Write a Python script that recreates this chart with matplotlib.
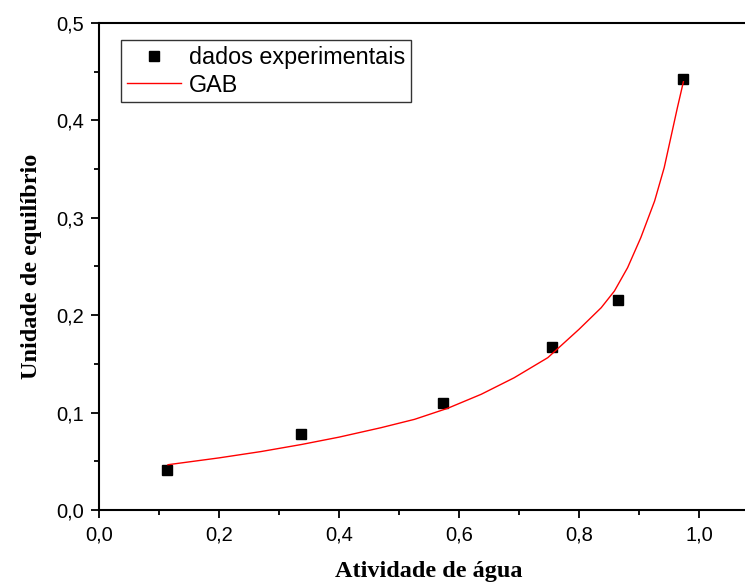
import matplotlib
matplotlib.use('Agg')
from matplotlib import pyplot as plt
from matplotlib.ticker import MultipleLocator, FuncFormatter

# Experimental sorption data
aw_exp = [0.113, 0.336, 0.573, 0.755, 0.865, 0.973]
m_exp = [0.041, 0.078, 0.110, 0.167, 0.216, 0.443]

# GAB fitted curve
aw_gab = [0.115, 0.200, 0.270, 0.337, 0.400, 0.470, 0.526, 0.581, 0.637, 0.692,
          0.748, 0.800, 0.837, 0.859, 0.881, 0.903, 0.926, 0.942, 0.953, 0.964, 0.974]
m_gab = [0.0465, 0.0535, 0.0600, 0.0672, 0.0748, 0.0845, 0.0931, 0.1044, 0.1188, 0.1358,
         0.1564, 0.1855, 0.2077, 0.2248, 0.2488, 0.2796, 0.3172, 0.3515, 0.3823, 0.4131, 0.4397]

plt.rcParams['font.family'] = 'Liberation Sans'

fig = plt.figure(figsize=(7.45, 5.83), dpi=100)
ax = fig.add_axes([99 / 745, 73 / 583, 660 / 745, 487 / 583])

ax.plot(aw_exp, m_exp, 's', color='black', markersize=7.5, label='dados experimentais')
ax.plot(aw_gab, m_gab, '-', color='red', linewidth=1.0, label='GAB')

ax.set_xlim(0, 1.1)
ax.set_ylim(0, 0.5)
ax.xaxis.set_major_locator(MultipleLocator(0.2))
ax.xaxis.set_minor_locator(MultipleLocator(0.1))
ax.yaxis.set_major_locator(MultipleLocator(0.1))
ax.yaxis.set_minor_locator(MultipleLocator(0.05))
comma = FuncFormatter(lambda v, p: ('%.1f' % v).replace('.', ','))
ax.xaxis.set_major_formatter(comma)
ax.yaxis.set_major_formatter(comma)

ax.tick_params(which='major', direction='out', length=6, width=1.3, labelsize=14.5, pad=5)
ax.tick_params(which='minor', direction='out', length=3.5, width=1.3)
ax.tick_params(top=False, right=False, which='both')
for s in ax.spines.values():
    s.set_linewidth(1.5)

ax.set_xlabel('Atividade de água', fontfamily='Liberation Serif', fontweight='bold',
              fontsize=17.5, labelpad=12)
ax.set_ylabel('Unidade de equilíbrio', fontfamily='Liberation Serif', fontweight='bold',
              fontsize=17.5, labelpad=10)

leg = ax.legend(loc='upper left', bbox_to_anchor=(121 / 745, 1 - 40 / 583),
                bbox_transform=fig.transFigure, fontsize=16.8, frameon=True,
                fancybox=False, edgecolor='black', borderpad=0.25,
                labelspacing=0.2, handlelength=2.3, handletextpad=0.35,
                borderaxespad=0)
leg.get_frame().set_linewidth(1.0)

fig.savefig('out.png', dpi=100)
